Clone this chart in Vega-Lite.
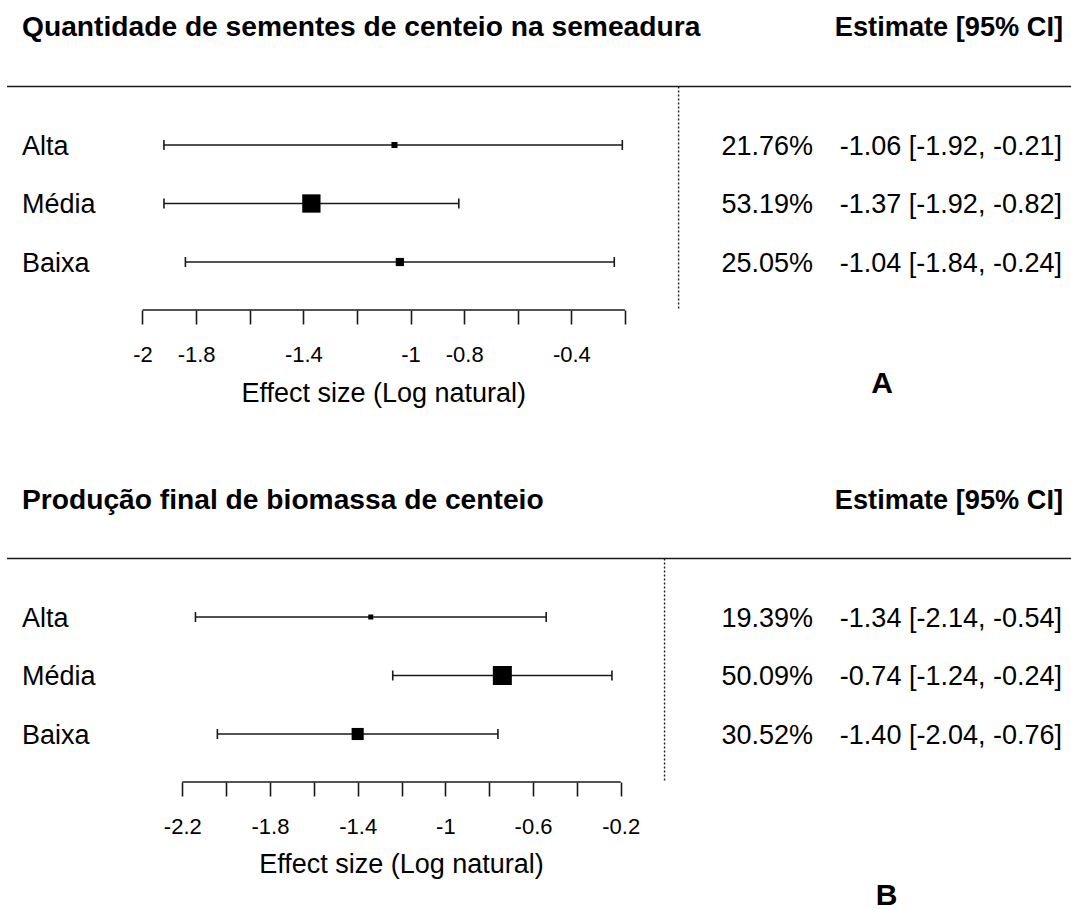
{
  "$schema": "https://vega.github.io/schema/vega-lite/v6.json",
  "padding": 0,
  "background": "white",
  "bounds": "flush",
  "spacing": 162,
  "config": {"view": {"stroke": null}, "font": "Liberation Sans"},
  "resolve": {"scale": {"size": "independent"}},
  "datasets": {
    "A": [
      {"grupo": "Alta", "ordem": 1, "peso": 21.76, "est": -1.06, "lo": -1.92, "hi": -0.21, "pct": "21.76%", "ic": "-1.06 [-1.92, -0.21]"},
      {"grupo": "Média", "ordem": 2, "peso": 53.19, "est": -1.37, "lo": -1.92, "hi": -0.82, "pct": "53.19%", "ic": "-1.37 [-1.92, -0.82]"},
      {"grupo": "Baixa", "ordem": 3, "peso": 25.05, "est": -1.04, "lo": -1.84, "hi": -0.24, "pct": "25.05%", "ic": "-1.04 [-1.84, -0.24]"}
    ],
    "B": [
      {"grupo": "Alta", "ordem": 1, "peso": 19.39, "est": -1.34, "lo": -2.14, "hi": -0.54, "pct": "19.39%", "ic": "-1.34 [-2.14, -0.54]"},
      {"grupo": "Média", "ordem": 2, "peso": 50.09, "est": -0.74, "lo": -1.24, "hi": -0.24, "pct": "50.09%", "ic": "-0.74 [-1.24, -0.24]"},
      {"grupo": "Baixa", "ordem": 3, "peso": 30.52, "est": -1.40, "lo": -2.04, "hi": -0.76, "pct": "30.52%", "ic": "-1.40 [-2.04, -0.76]"}
    ]
  },
  "vconcat": [
    {
      "width": 1071,
      "height": 310,
      "data": {"name": "A"},
      "layer": [
        {
          "mark": {"type": "rule", "stroke": "#1a1a1a", "strokeWidth": 1.6},
          "encoding": {
            "x": {
              "field": "lo", "type": "quantitative",
              "scale": {"domain": [-2.5316, 1.4638], "nice": false, "zero": false},
              "axis": {
                "values": [-2, -1.8, -1.6, -1.4, -1.2, -1, -0.8, -0.6, -0.4, -0.2],
                "labelExpr": "indexof([-2, -1.8, -1.4, -1, -0.8, -0.4], datum.value) >= 0 ? toString(datum.value) : ''",
                "title": null, "domain": false, "grid": false,
                "tickSize": 14, "tickColor": "#1a1a1a", "tickWidth": 1.6,
                "labelFont": "Liberation Sans", "labelFontSize": 22, "labelColor": "black",
                "labelBaseline": "alphabetic", "labelPadding": 37,
                "labelFlush": false, "labelOverlap": false, "labelBound": false
              }
            },
            "x2": {"field": "hi"},
            "y": {"field": "ordem", "type": "quantitative", "scale": {"domain": [-1.4786, 3.8205], "reverse": true, "nice": false, "zero": false}, "axis": null}
          }
        },
        {
          "data": {"values": [{"elemento": "linha do cabeçalho"}]},
          "mark": {"type": "rule", "stroke": "#1a1a1a", "strokeWidth": 1.6},
          "encoding": {
            "x": {"datum": -2.5055, "type": "quantitative"},
            "x2": {"datum": 1.4638},
            "y": {"datum": 0, "type": "quantitative", "axis": null}
          }
        },
        {
          "data": {"values": [{"elemento": "linha de referência"}]},
          "mark": {"type": "rule", "stroke": "#1a1a1a", "strokeWidth": 1.4, "strokeDash": [2, 2]},
          "encoding": {
            "x": {"datum": 0, "type": "quantitative"},
            "y": {"datum": 0, "type": "quantitative", "axis": null},
            "y2": {"datum": 3.8205}
          }
        },
        {
          "data": {"values": [{"elemento": "eixo"}]},
          "mark": {"type": "rule", "stroke": "#1a1a1a", "strokeWidth": 1.6},
          "encoding": {
            "x": {"datum": -2, "type": "quantitative"},
            "x2": {"datum": -0.2},
            "y": {"datum": 3.8205, "type": "quantitative", "axis": null}
          }
        },
        {
          "mark": {"type": "tick", "orient": "vertical", "color": "#1a1a1a", "size": 10, "thickness": 1.6, "opacity": 1},
          "encoding": {
            "x": {"field": "lo", "type": "quantitative"},
            "y": {"field": "ordem", "type": "quantitative", "axis": null}
          }
        },
        {
          "mark": {"type": "tick", "orient": "vertical", "color": "#1a1a1a", "size": 10, "thickness": 1.6, "opacity": 1},
          "encoding": {
            "x": {"field": "hi", "type": "quantitative"},
            "y": {"field": "ordem", "type": "quantitative", "axis": null}
          }
        },
        {
          "mark": {"type": "square", "filled": true, "color": "black", "opacity": 1},
          "encoding": {
            "x": {"field": "est", "type": "quantitative"},
            "y": {"field": "ordem", "type": "quantitative", "axis": null},
            "size": {"field": "peso", "type": "quantitative", "scale": {"type": "linear", "domain": [21.76, 53.19], "range": [36, 335], "zero": false}, "legend": null}
          }
        },
        {
          "mark": {"type": "text", "align": "left", "baseline": "middle", "dy": 2, "fontSize": 27, "color": "black"},
          "encoding": {
            "x": {"datum": -2.4495, "type": "quantitative"},
            "y": {"field": "ordem", "type": "quantitative", "axis": null},
            "text": {"field": "grupo"}
          }
        },
        {
          "mark": {"type": "text", "align": "right", "baseline": "middle", "dy": 2, "fontSize": 27, "color": "black"},
          "encoding": {
            "x": {"datum": 0.5013, "type": "quantitative"},
            "y": {"field": "ordem", "type": "quantitative", "axis": null},
            "text": {"field": "pct"}
          }
        },
        {
          "mark": {"type": "text", "align": "right", "baseline": "middle", "dy": 2, "fontSize": 27, "color": "black"},
          "encoding": {
            "x": {"datum": 1.43, "type": "quantitative"},
            "y": {"field": "ordem", "type": "quantitative", "axis": null},
            "text": {"field": "ic"}
          }
        },
        {
          "data": {"values": [{"texto": "Quantidade de sementes de centeio na semeadura"}]},
          "mark": {"type": "text", "align": "left", "baseline": "alphabetic", "fontSize": 28.2, "fontWeight": "bold", "color": "black"},
          "encoding": {
            "x": {"datum": -2.4495, "type": "quantitative"},
            "y": {"datum": -0.868, "type": "quantitative", "axis": null},
            "text": {"field": "texto"}
          }
        },
        {
          "data": {"values": [{"texto": "Estimate [95% CI]"}]},
          "mark": {"type": "text", "align": "right", "baseline": "alphabetic", "fontSize": 27.2, "fontWeight": "bold", "color": "black"},
          "encoding": {
            "x": {"datum": 1.434, "type": "quantitative"},
            "y": {"datum": -0.868, "type": "quantitative", "axis": null},
            "text": {"field": "texto"}
          }
        },
        {
          "data": {"values": [{"texto": "Effect size (Log natural)"}]},
          "mark": {"type": "text", "align": "center", "baseline": "alphabetic", "fontSize": 27, "color": "black"},
          "encoding": {
            "x": {"datum": -1.1, "type": "quantitative"},
            "y": {"datum": 5.4, "type": "quantitative", "axis": null},
            "text": {"field": "texto"}
          }
        },
        {
          "data": {"values": [{"texto": "A"}]},
          "mark": {"type": "text", "align": "center", "baseline": "alphabetic", "fontSize": 30, "fontWeight": "bold", "color": "black"},
          "encoding": {
            "x": {"datum": 0.7587, "type": "quantitative"},
            "y": {"datum": 5.239, "type": "quantitative", "axis": null},
            "text": {"field": "texto"}
          }
        }
      ]
    },
    {
      "width": 1071,
      "height": 310,
      "data": {"name": "B"},
      "layer": [
        {
          "mark": {"type": "rule", "stroke": "#1a1a1a", "strokeWidth": 1.6},
          "encoding": {
            "x": {
              "field": "lo", "type": "quantitative",
              "scale": {"domain": [-3.0317, 1.8543], "nice": false, "zero": false},
              "axis": {
                "values": [-2.2, -2, -1.8, -1.6, -1.4, -1.2, -1, -0.8, -0.6, -0.4, -0.2],
                "labelExpr": "indexof([-2.2, -1.8, -1.4, -1, -0.6, -0.2], datum.value) >= 0 ? toString(datum.value) : ''",
                "title": null, "domain": false, "grid": false,
                "tickSize": 14, "tickColor": "#1a1a1a", "tickWidth": 1.6,
                "labelFont": "Liberation Sans", "labelFontSize": 22, "labelColor": "black",
                "labelBaseline": "alphabetic", "labelPadding": 37,
                "labelFlush": false, "labelOverlap": false, "labelBound": false
              }
            },
            "x2": {"field": "hi"},
            "y": {"field": "ordem", "type": "quantitative", "scale": {"domain": [-1.4786, 3.8205], "reverse": true, "nice": false, "zero": false}, "axis": null}
          }
        },
        {
          "data": {"values": [{"elemento": "linha do cabeçalho"}]},
          "mark": {"type": "rule", "stroke": "#1a1a1a", "strokeWidth": 1.6},
          "encoding": {
            "x": {"datum": -3.0, "type": "quantitative"},
            "x2": {"datum": 1.8543},
            "y": {"datum": 0, "type": "quantitative", "axis": null}
          }
        },
        {
          "data": {"values": [{"elemento": "linha de referência"}]},
          "mark": {"type": "rule", "stroke": "#1a1a1a", "strokeWidth": 1.4, "strokeDash": [2, 2]},
          "encoding": {
            "x": {"datum": 0, "type": "quantitative"},
            "y": {"datum": 0, "type": "quantitative", "axis": null},
            "y2": {"datum": 3.8205}
          }
        },
        {
          "data": {"values": [{"elemento": "eixo"}]},
          "mark": {"type": "rule", "stroke": "#1a1a1a", "strokeWidth": 1.6},
          "encoding": {
            "x": {"datum": -2.2, "type": "quantitative"},
            "x2": {"datum": -0.2},
            "y": {"datum": 3.8205, "type": "quantitative", "axis": null}
          }
        },
        {
          "mark": {"type": "tick", "orient": "vertical", "color": "#1a1a1a", "size": 10, "thickness": 1.6, "opacity": 1},
          "encoding": {
            "x": {"field": "lo", "type": "quantitative"},
            "y": {"field": "ordem", "type": "quantitative", "axis": null}
          }
        },
        {
          "mark": {"type": "tick", "orient": "vertical", "color": "#1a1a1a", "size": 10, "thickness": 1.6, "opacity": 1},
          "encoding": {
            "x": {"field": "hi", "type": "quantitative"},
            "y": {"field": "ordem", "type": "quantitative", "axis": null}
          }
        },
        {
          "mark": {"type": "square", "filled": true, "color": "black", "opacity": 1},
          "encoding": {
            "x": {"field": "est", "type": "quantitative"},
            "y": {"field": "ordem", "type": "quantitative", "axis": null},
            "size": {"field": "peso", "type": "quantitative", "scale": {"type": "linear", "domain": [19.39, 50.09], "range": [25, 361], "zero": false}, "legend": null}
          }
        },
        {
          "mark": {"type": "text", "align": "left", "baseline": "middle", "dy": 2, "fontSize": 27, "color": "black"},
          "encoding": {
            "x": {"datum": -2.9313, "type": "quantitative"},
            "y": {"field": "ordem", "type": "quantitative", "axis": null},
            "text": {"field": "grupo"}
          }
        },
        {
          "mark": {"type": "text", "align": "right", "baseline": "middle", "dy": 2, "fontSize": 27, "color": "black"},
          "encoding": {
            "x": {"datum": 0.6773, "type": "quantitative"},
            "y": {"field": "ordem", "type": "quantitative", "axis": null},
            "text": {"field": "pct"}
          }
        },
        {
          "mark": {"type": "text", "align": "right", "baseline": "middle", "dy": 2, "fontSize": 27, "color": "black"},
          "encoding": {
            "x": {"datum": 1.8132, "type": "quantitative"},
            "y": {"field": "ordem", "type": "quantitative", "axis": null},
            "text": {"field": "ic"}
          }
        },
        {
          "data": {"values": [{"texto": "Produção final de biomassa de centeio"}]},
          "mark": {"type": "text", "align": "left", "baseline": "alphabetic", "fontSize": 28.2, "fontWeight": "bold", "color": "black"},
          "encoding": {
            "x": {"datum": -2.9313, "type": "quantitative"},
            "y": {"datum": -0.841, "type": "quantitative", "axis": null},
            "text": {"field": "texto"}
          }
        },
        {
          "data": {"values": [{"texto": "Estimate [95% CI]"}]},
          "mark": {"type": "text", "align": "right", "baseline": "alphabetic", "fontSize": 27.2, "fontWeight": "bold", "color": "black"},
          "encoding": {
            "x": {"datum": 1.8178, "type": "quantitative"},
            "y": {"datum": -0.841, "type": "quantitative", "axis": null},
            "text": {"field": "texto"}
          }
        },
        {
          "data": {"values": [{"texto": "Effect size (Log natural)"}]},
          "mark": {"type": "text", "align": "center", "baseline": "alphabetic", "fontSize": 27, "color": "black"},
          "encoding": {
            "x": {"datum": -1.2, "type": "quantitative"},
            "y": {"datum": 5.381, "type": "quantitative", "axis": null},
            "text": {"field": "texto"}
          }
        },
        {
          "data": {"values": [{"texto": "B"}]},
          "mark": {"type": "text", "align": "center", "baseline": "alphabetic", "fontSize": 30, "fontWeight": "bold", "color": "black"},
          "encoding": {
            "x": {"datum": 1.0135, "type": "quantitative"},
            "y": {"datum": 5.915, "type": "quantitative", "axis": null},
            "text": {"field": "texto"}
          }
        }
      ]
    }
  ]
}
